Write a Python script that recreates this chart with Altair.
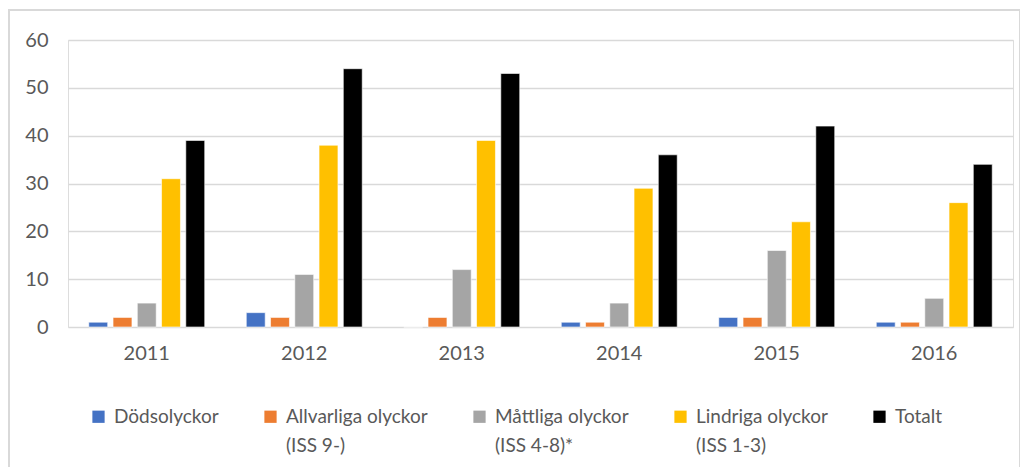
import altair as alt
import pandas as pd

years = ["2011", "2012", "2013", "2014", "2015", "2016"]
series = [
    "Dödsolyckor",
    "Allvarliga olyckor\n(ISS 9-)",
    "Måttliga olyckor\n(ISS 4-8)*",
    "Lindriga olyckor\n(ISS 1-3)",
    "Totalt",
]
dodsolyckor = [1, 3, 0, 1, 2, 1]
allvarliga = [2, 2, 2, 1, 2, 1]
mattliga = [5, 11, 12, 5, 16, 6]
lindriga = [31, 38, 39, 29, 22, 26]
totalt = [39, 54, 53, 36, 42, 34]
y_ticks = [0, 10, 20, 30, 40, 50, 60]
colors = ["#4472C4", "#ED7D31", "#A5A5A5", "#FFC000", "#000000"]

rows = []
for s, vals in zip(series, [dodsolyckor, allvarliga, mattliga, lindriga, totalt]):
    for yr, v in zip(years, vals):
        rows.append({"year": yr, "serie": s, "value": v})
df = pd.DataFrame(rows)

FONT = "Lato"
TXT = "#595959"

bars = alt.Chart(df).mark_bar(stroke="white", strokeWidth=0.6).encode(
    x=alt.X(
        "year:N",
        sort=years,
        title=None,
        scale=alt.Scale(paddingInner=0.23, paddingOuter=0.115),
        axis=alt.Axis(labelAngle=0, labelPadding=16, domain=False, ticks=False,
                      labelFont=FONT, labelFontSize=20, labelColor=TXT),
    ),
    xOffset=alt.XOffset("serie:N", sort=series,
                        scale=alt.Scale(paddingInner=0.22, paddingOuter=0.11)),
    y=alt.Y(
        "value:Q",
        title=None,
        scale=alt.Scale(domain=[0, 60], nice=False),
        axis=alt.Axis(values=y_ticks, labelPadding=20, domain=False, ticks=False,
                      grid=True, gridColor="#d9d9d9", gridWidth=1.6,
                      labelFont=FONT, labelFontSize=20, labelColor=TXT),
    ),
    color=alt.Color(
        "serie:N",
        sort=series,
        scale=alt.Scale(domain=series, range=colors),
        legend=alt.Legend(
            title=None,
            orient="none",
            direction="horizontal",
            legendX=21,
            legendY=367,
            padding=0,
            symbolType="square",
            symbolSize=150,
            symbolStrokeWidth=0,
            symbolOffset=0,
            labelFont=FONT,
            labelFontSize=19,
            labelColor=TXT,
            labelLimit=400,
            labelOffset=6,
            labelBaseline="middle",
            columnPadding=42,
            labelExpr="split(indexof(datum.label, '\\n') < 0 ? datum.label + '\\n ' : datum.label, '\\n')",
        ),
    ),
)

frame = alt.Chart(pd.DataFrame({"a": [0]})).mark_rect(
    fill=None, stroke="#d9d9d9", strokeWidth=2
).encode(
    x=alt.value(-59), x2=alt.value(952), y=alt.value(-30), y2=alt.value(440)
)

chart = alt.layer(frame, bars).properties(
    width=945,
    height=287,
    autosize=alt.AutoSizeParams(type="none"),
    padding={"left": 60, "top": 32, "right": 7, "bottom": 140},
).configure_view(stroke=None).configure(
    background="white",
    style={"guide-label": {"lineHeight": 29}},
)

chart.save("out.html", embed_options={"renderer": "svg", "actions": False})
